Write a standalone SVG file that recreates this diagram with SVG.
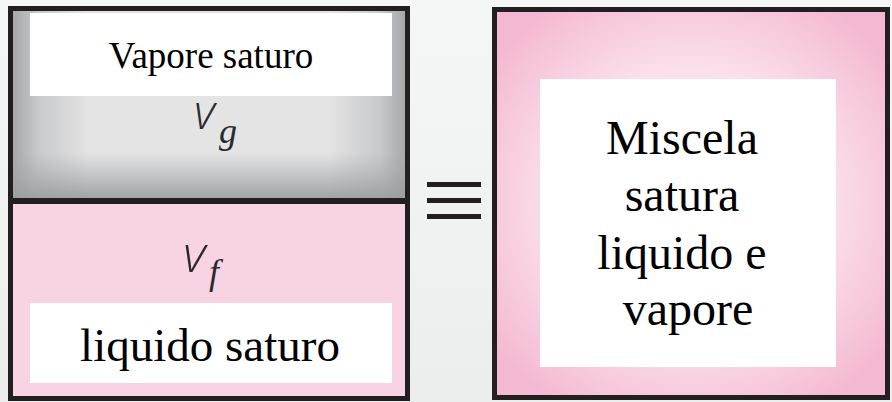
<svg xmlns="http://www.w3.org/2000/svg" width="892" height="402" viewBox="0 0 892 402">
  <defs>
    <linearGradient id="bg" x1="0" y1="0" x2="0" y2="1">
      <stop offset="0" stop-color="#f5f6f6"/>
      <stop offset="1" stop-color="#eceded"/>
    </linearGradient>
    <linearGradient id="vapH" x1="0" y1="0" x2="1" y2="0">
      <stop offset="0" stop-color="#a3a5a7"/>
      <stop offset="0.07" stop-color="#c9cacb"/>
      <stop offset="0.2" stop-color="#e4e4e5"/>
      <stop offset="0.8" stop-color="#e4e4e5"/>
      <stop offset="0.93" stop-color="#c9cacb"/>
      <stop offset="1" stop-color="#a3a5a7"/>
    </linearGradient>
    <linearGradient id="vapV" x1="0" y1="0" x2="0" y2="1">
      <stop offset="0" stop-color="#a3a5a7" stop-opacity="0"/>
      <stop offset="0.75" stop-color="#a3a5a7" stop-opacity="0"/>
      <stop offset="1" stop-color="#9a9c9e" stop-opacity="0.95"/>
    </linearGradient>
    <radialGradient id="mix" cx="0.5" cy="0.5" r="0.62">
      <stop offset="0.55" stop-color="#fbe1eb"/>
      <stop offset="1" stop-color="#f4b9d2"/>
    </radialGradient>
    <style>
      .frame { fill: none; stroke: #231f20; stroke-width: 5; }
      .label { font-family: "Liberation Serif", "Times New Roman", serif; fill: #000; text-anchor: middle; }
      .sym { font-family: "Open Sans", "DejaVu Sans", sans-serif; font-style: italic; font-weight: 300; fill: #2a2a2a; }
      .sub { font-family: "Liberation Serif", "Times New Roman", serif; font-style: italic; fill: #2a2a2a; }
      .bar { fill: #231f20; }
    </style>
  </defs>

  <rect x="0" y="0" width="892" height="402" fill="url(#bg)"/>

  <g id="left-cylinder">
    <rect x="11" y="9" width="396" height="191" fill="url(#vapH)"/>
    <rect x="11" y="9" width="396" height="191" fill="url(#vapV)"/>
    <rect x="11" y="201" width="396" height="196" fill="#f8d3e4"/>
    <line x1="11" y1="201" x2="407" y2="201" stroke="#231f20" stroke-width="6"/>
    <rect x="10.5" y="8.5" width="397" height="390" class="frame"/>
  </g>

  <g id="vapore-saturo">
    <rect x="30" y="13" width="362" height="83" fill="#fff"/>
    <text x="211" y="68" class="label" font-size="37">Vapore saturo</text>
  </g>

  <g id="vg">
    <text x="194" y="129" class="sym" font-size="48">v</text>
    <text x="219" y="143" class="sub" font-size="36">g</text>
  </g>

  <g id="vf">
    <text x="183" y="272" class="sym" font-size="52">v</text>
    <text x="209" y="284" class="sub" font-size="36">f</text>
  </g>

  <g id="liquido-saturo">
    <rect x="30" y="303" width="362" height="80" fill="#fff"/>
    <text x="210" y="361" class="label" font-size="47">liquido saturo</text>
  </g>

  <g id="equivalence">
    <rect x="427" y="182" width="54" height="5" class="bar"/>
    <rect x="427" y="198" width="54" height="5" class="bar"/>
    <rect x="427" y="214" width="54" height="5" class="bar"/>
  </g>

  <g id="miscela">
    <rect x="494.5" y="9.5" width="393" height="388" fill="url(#mix)"/>
    <rect x="494.5" y="9.5" width="393" height="388" class="frame"/>
    <rect x="540" y="79" width="296" height="288" fill="#fff"/>
    <text class="label" font-size="48">
      <tspan x="688" y="154">Miscela</tspan>
      <tspan x="688" y="211">satura</tspan>
      <tspan x="688" y="269">liquido e</tspan>
      <tspan x="688" y="325">vapore</tspan>
    </text>
  </g>

  <g id="connectors"/>
</svg>
